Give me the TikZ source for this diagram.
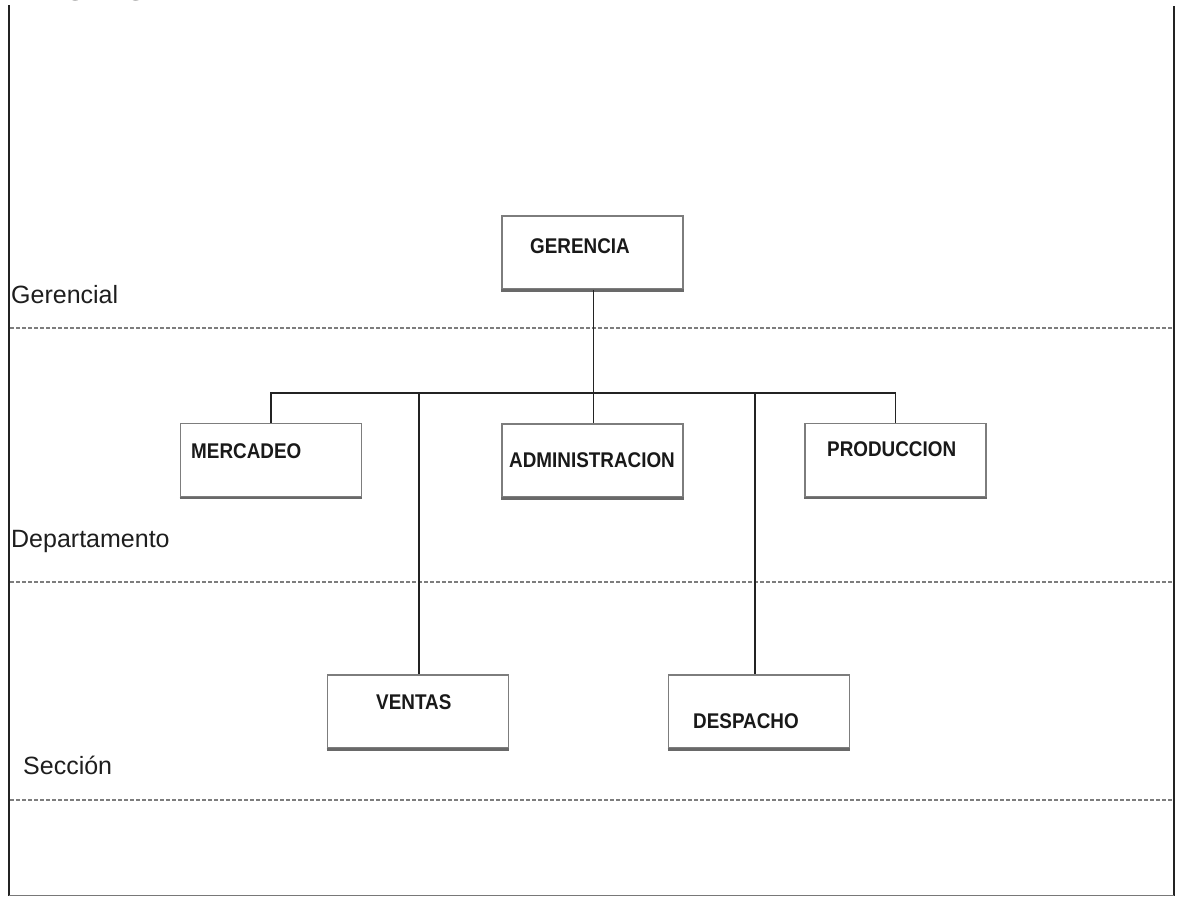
\documentclass[tikz,border=0pt]{standalone}
\usepackage{fontspec}
\usepackage{graphicx}
\setmainfont{Liberation Sans}
\newfontfamily\titlefont{Liberation Serif}
\newcommand\bxtxt[1]{\scalebox{1.02}[1.15]{\bfseries #1}}
\begin{document}
\begin{tikzpicture}[x=1pt,y=-1pt,
  box/.style={draw={rgb,255:red,125;green,125;blue,125}, line width=1.7pt, minimum width=181pt, minimum height=73pt, inner sep=0pt, fill=white},
  boxtext/.style={anchor=base west, inner sep=0pt, text={rgb,255:red,25;green,25;blue,25}, font=\fontsize{18.5}{20}\selectfont},
  lvl/.style={anchor=base west, inner sep=0pt, text={rgb,255:red,30;green,30;blue,30}, font=\fontsize{25}{28}\selectfont},
  conn/.style={draw={rgb,255:red,35;green,35;blue,35}, line width=1.8pt},
  sep/.style={draw={rgb,255:red,125;green,125;blue,125}, line width=1.3pt, dash pattern=on 3.5pt off 2.5pt},
  shadowline/.style={draw={rgb,255:red,105;green,105;blue,105}, line width=2.4pt}
]
\useasboundingbox (0,0) rectangle (1177,897);
\fill[white] (0,0) rectangle (1177,897);
% clipped title
\begin{scope}
\clip (0,0) rectangle (1177,897);
\node[anchor=base west, inner sep=0pt, font=\titlefont\bfseries\fontsize{33}{36}\selectfont] (title) at (27,-7) {Organigrama};
\end{scope}
% frame
\coordinate (fTL) at (9,5);
\coordinate (fBL) at (9,896);
\coordinate (fTR) at (1174,6);
\coordinate (fBR) at (1174,896);
\draw[line width=2.4pt, draw={rgb,255:red,35;green,35;blue,35}] (fTL) -- (fBL);
\draw[line width=2.4pt, draw={rgb,255:red,35;green,35;blue,35}] (fTR) -- (fBR);
\draw[line width=1pt, draw={rgb,255:red,120;green,120;blue,120}] (9,895) -- (1174,895);
% separators
\coordinate (s1a) at (10,328); \coordinate (s1b) at (1172,328);
\coordinate (s2a) at (10,582); \coordinate (s2b) at (1172,582);
\coordinate (s3a) at (10,800); \coordinate (s3b) at (1172,800);
\draw[sep] (s1a) -- (s1b);
\draw[sep] (s2a) -- (s2b);
\draw[sep] (s3a) -- (s3b);
% level labels
\node[lvl] (lg) at (11,303) {Gerencial};
\node[lvl] (ld) at (11,547) {Departamento};
\node[lvl] (ls) at (23,774) {Sección};
% boxes
\node[box] (ger) at (592.5,252.5) {};
\node[box] (mer) at (271,460) {};
\node[box] (adm) at (592.5,460.5) {};
\node[box] (pro) at (895.5,460) {};
\node[box] (ven) at (418,711.5) {};
\node[box] (des) at (759,711.5) {};
\foreach \b in {ger,mer,adm,pro,ven,des}{
  \draw[shadowline] ([yshift=-0.6pt]\b.south west) -- ([yshift=-0.6pt]\b.south east);
}
% box texts
\node[boxtext] (gert) at (530,253) {\bxtxt{GERENCIA}};
\node[boxtext] (mert) at (191,458) {\bxtxt{MERCADEO}};
\node[boxtext] (admt) at (509,467) {\bxtxt{ADMINISTRACION}};
\node[boxtext] (prot) at (827,456) {\bxtxt{PRODUCCION}};
\node[boxtext] (vent) at (376,709) {\bxtxt{VENTAS}};
\node[boxtext] (dest) at (693,728) {\bxtxt{DESPACHO}};
% connectors
\coordinate (busy) at (0,393);
\coordinate (gx) at (593.5,0);
\coordinate (bv) at (419,393);
\coordinate (bd) at (755,393);
\draw[conn] (ger.south -| gx) -- (adm.north -| gx);
\draw[conn] (mer.north) -- (mer.north |- busy) -- (pro.north |- busy) -- (pro.north);
\draw[conn] (bv) -- (bv |- ven.north);
\draw[conn] (bd) -- (bd |- des.north);
\end{tikzpicture}
\end{document}
